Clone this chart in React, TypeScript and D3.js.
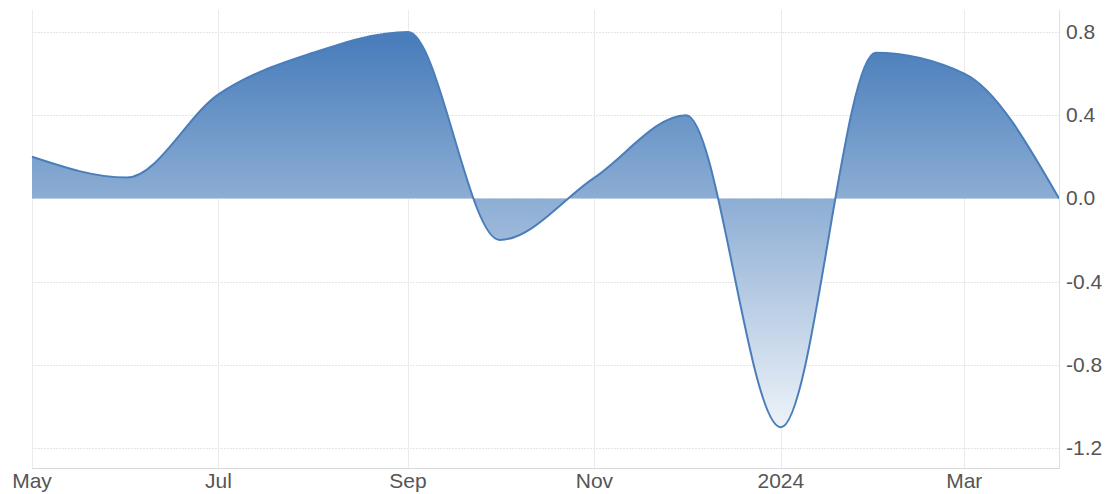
import React, {useRef, useEffect} from "react"
import * as d3 from "d3"

// monthly readings, first day of each month
const months = ["2023-05-01", "2023-06-01", "2023-07-01", "2023-08-01", "2023-09-01", "2023-10-01",
    "2023-11-01", "2023-12-01", "2024-01-01", "2024-02-01", "2024-03-01", "2024-04-01"]
const values = [0.2, 0.1, 0.5, 0.7, 0.8, -0.2, 0.1, 0.4, -1.1, 0.7, 0.6, 0.0]
const yTicks = [0.8, 0.4, 0.0, -0.4, -0.8, -1.2]
const xTicks = ["2023-05-01", "2023-07-01", "2023-09-01", "2023-11-01", "2024-01-01", "2024-03-01"]
const xTickLabels = ["May", "Jul", "Sep", "Nov", "2024", "Mar"]

const App = () => {
    let element = useRef<SVGSVGElement>(null)

    useEffect(() => {
        const W = 1108, H = 494
        let margin = {top: 10, right: 49, bottom: 26, left: 32},
            width = W - margin.left - margin.right,
            height = H - margin.top - margin.bottom

        const parse = d3.timeParse("%Y-%m-%d")
        const data = months.map((m, i) => ({date: parse(m)!, value: values[i]}))

        const svg = d3.select(element.current)
        svg.selectAll("*").remove()

        const g = svg.append("g")
            .attr("transform", "translate(" + margin.left + "," + margin.top + ")")

        let x = d3.scaleTime()
            .domain([data[0].date, data[data.length - 1].date])
            .range([0, width])

        let y = d3.scaleLinear()
            .domain([-1.2, 0.8])
            .range([448 - margin.top, 32 - margin.top])

        const defs = svg.append("defs")
        const grad = defs.append("linearGradient")
            .attr("id", "fillGrad")
            .attr("gradientUnits", "userSpaceOnUse")
            .attr("x1", 0).attr("x2", 0)
            .attr("y1", y(0.8) + margin.top).attr("y2", y(-1.25) + margin.top)
        grad.append("stop").attr("offset", "0%").attr("stop-color", "#4a7ebb")
        grad.append("stop").attr("offset", "100%").attr("stop-color", "#ffffff")

        // horizontal grid
        g.append("g")
            .selectAll("line")
            .data(yTicks)
            .enter()
            .append("line")
              .attr("x1", 0).attr("x2", width)
              .attr("y1", d => Math.round(y(d)) + 0.5).attr("y2", d => Math.round(y(d)) + 0.5)
              .attr("stroke", "#e6e6e6")
              .attr("stroke-dasharray", "2,1")

        // vertical grid
        g.append("g")
            .selectAll("line")
            .data(xTicks)
            .enter()
            .append("line")
              .attr("x1", d => Math.round(x(parse(d)!)) + 0.5).attr("x2", d => Math.round(x(parse(d)!)) + 0.5)
              .attr("y1", 0).attr("y2", height)
              .attr("stroke", "#ebebeb")

        let area = d3.area<{date: Date, value: number}>()
            .x(d => x(d.date))
            .y0(y(0))
            .y1(d => y(d.value))
            .curve(d3.curveMonotoneX)

        let line = d3.line<{date: Date, value: number}>()
            .x(d => x(d.date))
            .y(d => y(d.value))
            .curve(d3.curveMonotoneX)

        g.append("path")
            .datum(data)
            .attr("d", area)
            .attr("fill", "url(#fillGrad)")

        g.append("path")
            .datum(data)
            .attr("d", line)
            .attr("fill", "none")
            .attr("stroke", "#4a7ebb")
            .attr("stroke-width", 2)

        // bottom axis line and right border
        g.append("line")
            .attr("x1", 0).attr("x2", width + 1)
            .attr("y1", height + 0.5).attr("y2", height + 0.5)
            .attr("stroke", "#d8d8d8")
        g.append("line")
            .attr("x1", width + 0.5).attr("x2", width + 0.5)
            .attr("y1", 0).attr("y2", height)
            .attr("stroke", "#e0e0e0")

        g.append("g")
            .selectAll("text")
            .data(xTicks)
            .enter()
            .append("text")
              .attr("x", d => x(parse(d)!))
              .attr("y", height + 20)
              .attr("text-anchor", "middle")
              .attr("font-family", "Liberation Sans, Arial, sans-serif")
              .attr("font-size", 21)
              .attr("fill", "#555")
              .text((d, i) => xTickLabels[i])

        g.append("g")
            .selectAll("text")
            .data(yTicks)
            .enter()
            .append("text")
              .attr("x", width + 7)
              .attr("y", d => y(d) + 7)
              .attr("font-family", "Liberation Sans, Arial, sans-serif")
              .attr("font-size", 21)
              .attr("fill", "#555")
              .text(d => d.toFixed(1))
    }, [])

    return (
        <div style={{position: "fixed", left: 0, top: 0, background: "#fff"}}>
            <svg ref={element} width={1108} height={494}></svg>
        </div>
    )
}

export default App
